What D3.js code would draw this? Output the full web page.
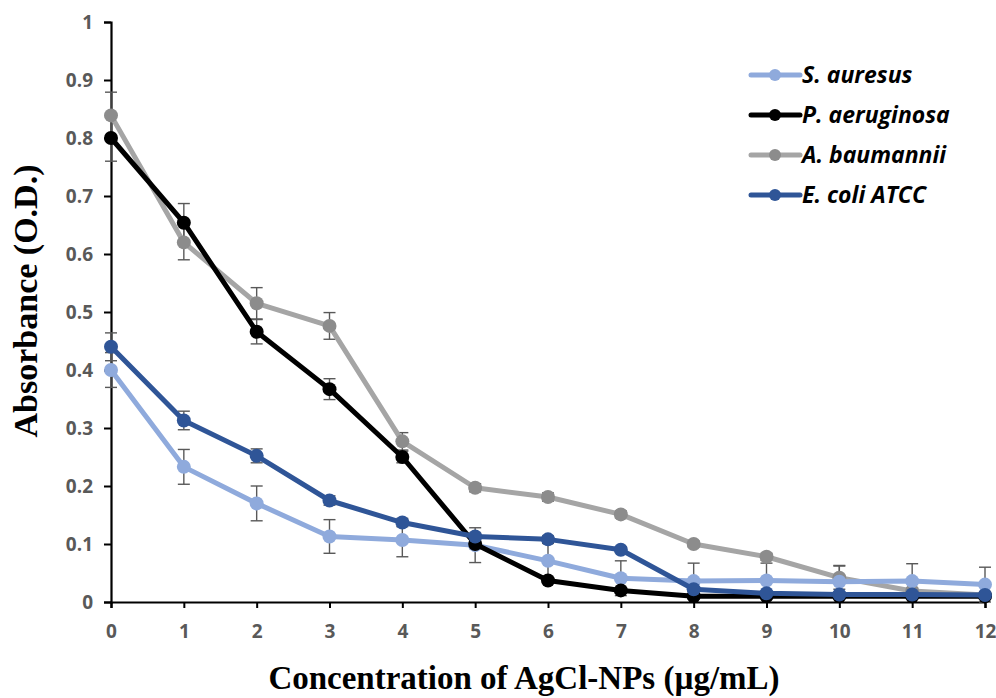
<!DOCTYPE html>
<html>
<head>
<meta charset="utf-8">
<script src="https://cdn.jsdelivr.net/npm/d3@7"></script>
<style>
  body { margin: 0; background: #fff; }
  svg { display: block; }
  .tick text { font-family: "Open Sans", "Liberation Sans", sans-serif; font-weight: 700; fill: #595959; font-size: 19px; }
</style>
</head>
<body>
<svg id="chart" width="996" height="698"></svg>
<script>
// Concentration of AgCl-NPs (µg/mL)
const concentrations = [0, 1, 2, 3, 4, 5, 6, 7, 8, 9, 10, 11, 12];

// Mean absorbance (O.D.) per strain
const sAureus      = [0.400, 0.233, 0.170, 0.113, 0.107, 0.098, 0.071, 0.041, 0.036, 0.037, 0.035, 0.036, 0.030];
const pAeruginosa  = [0.800, 0.654, 0.466, 0.367, 0.250, 0.100, 0.037, 0.020, 0.010, 0.010, 0.010, 0.010, 0.010];
const aBaumannii   = [0.839, 0.620, 0.515, 0.476, 0.277, 0.197, 0.181, 0.151, 0.100, 0.078, 0.042, 0.019, 0.012];
const eColi        = [0.440, 0.313, 0.252, 0.175, 0.137, 0.113, 0.108, 0.090, 0.022, 0.015, 0.013, 0.013, 0.012];

// Standard deviations
const sAureusErr     = [0.030, 0.030, 0.030, 0.029, 0.029, 0.030, 0.030, 0.030, 0.031, 0.030, 0.028, 0.030, 0.030];
const pAeruginosaErr = [0.040, 0.033, 0.021, 0.018, 0.010, 0.008, 0.005, 0.005, 0.004, 0.004, 0.004, 0.004, 0.004];
const aBaumanniiErr  = [0.040, 0.030, 0.027, 0.023, 0.015, 0.007, 0.007, 0.006, 0.005, 0.006, 0.020, 0.005, 0.005];
const eColiErr       = [0.024, 0.016, 0.012, 0.008, 0.007, 0.006, 0.006, 0.005, 0.004, 0.003, 0.003, 0.003, 0.003];

const yTicks = [0, 0.1, 0.2, 0.3, 0.4, 0.5, 0.6, 0.7, 0.8, 0.9, 1];

// legend labels as printed
const seriesNames = ["S. auresus", "P. aeruginosa", "A. baumannii", "E. coli ATCC"];

const seriesList = [
  { label: seriesNames[0], values: sAureus,     errors: sAureusErr,     color: "#8FAADC", marker: "#8FAADC" },
  { label: seriesNames[1], values: pAeruginosa, errors: pAeruginosaErr, color: "#000000", marker: "#000000" },
  { label: seriesNames[2], values: aBaumannii,  errors: aBaumanniiErr,  color: "#A5A5A5", marker: "#8C8C8C" },
  { label: seriesNames[3], values: eColi,       errors: eColiErr,       color: "#2F5597", marker: "#2F5597" }
];

// drawing order (back to front)
const drawOrder = [2, 0, 1, 3];

const svg = d3.select("#chart");
const x = d3.scaleLinear().domain([0, 12]).range([111, 985]);
const y = d3.scaleLinear().domain([0, 1]).range([602, 22]);

// axes
const xAxis = svg.append("g")
  .attr("transform", `translate(0,${y(0)})`)
  .call(d3.axisBottom(x).tickValues(concentrations).tickFormat(d3.format("d")).tickSize(6).tickPadding(17));
const yAxis = svg.append("g")
  .attr("transform", `translate(${x(0)},0)`)
  .call(d3.axisLeft(y).tickValues(yTicks).tickFormat(d => d === 0 || d === 1 ? String(d) : d3.format(".1f")(d)).tickSize(7).tickPadding(11));
[xAxis, yAxis].forEach(g => {
  g.attr("font-size", 19).attr("font-family", "'Open Sans', 'Liberation Sans', sans-serif");
  g.select(".domain").attr("stroke", "#000").attr("stroke-width", 2.2);
  g.selectAll(".tick line").attr("stroke", "#000").attr("stroke-width", 2);
});

// error bars
const errG = svg.append("g");
drawOrder.forEach(i => {
  const s = seriesList[i];
  concentrations.forEach((c, k) => {
    const cx = x(c), y1 = y(s.values[k] + s.errors[k]), y0 = y(Math.max(0, s.values[k] - s.errors[k]));
    errG.append("line").attr("x1", cx).attr("x2", cx).attr("y1", y1).attr("y2", y0)
      .attr("stroke", "#595959").attr("stroke-width", 1.4);
    [y1, y0].forEach(yy => errG.append("line").attr("x1", cx - 6).attr("x2", cx + 6).attr("y1", yy).attr("y2", yy)
      .attr("stroke", "#595959").attr("stroke-width", 1.4));
  });
});

// lines and markers
const line = d3.line().x((d, k) => x(concentrations[k])).y(d => y(d));
drawOrder.forEach(i => {
  const s = seriesList[i];
  const g = svg.append("g");
  g.append("path").datum(s.values).attr("d", line)
    .attr("fill", "none").attr("stroke", s.color).attr("stroke-width", 5).attr("stroke-linejoin", "round");
  g.selectAll("circle").data(s.values).join("circle")
    .attr("cx", (d, k) => x(concentrations[k])).attr("cy", d => y(d)).attr("r", 7)
    .attr("fill", s.marker);
});

// legend
const legend = svg.append("g");
seriesList.forEach((s, i) => {
  const ly = 75 + i * 40;
  legend.append("line").attr("x1", 751).attr("x2", 800).attr("y1", ly).attr("y2", ly)
    .attr("stroke", s.color).attr("stroke-width", 5).attr("stroke-linecap", "round");
  legend.append("circle").attr("cx", 775).attr("cy", ly).attr("r", 6).attr("fill", s.marker);
  legend.append("text").attr("x", 802).attr("y", ly + 8)
    .attr("font-family", "'Open Sans', 'Liberation Sans', sans-serif")
    .attr("font-weight", 700).attr("font-style", "italic").attr("font-size", 23)
    .attr("fill", "#000").text(s.label);
});

// axis titles
svg.append("text")
  .attr("transform", `translate(37,301) rotate(-90)`)
  .attr("text-anchor", "middle")
  .attr("font-family", "'Liberation Serif', 'Times New Roman', serif")
  .attr("font-weight", 700).attr("font-size", 34).attr("fill", "#000")
  .text("Absorbance (O.D.)");
svg.append("text")
  .attr("x", 524).attr("y", 689)
  .attr("text-anchor", "middle")
  .attr("font-family", "'Liberation Serif', 'Times New Roman', serif")
  .attr("font-weight", 700).attr("font-size", 33).attr("fill", "#000")
  .text("Concentration of AgCl-NPs (µg/mL)");
</script>
</body>
</html>
